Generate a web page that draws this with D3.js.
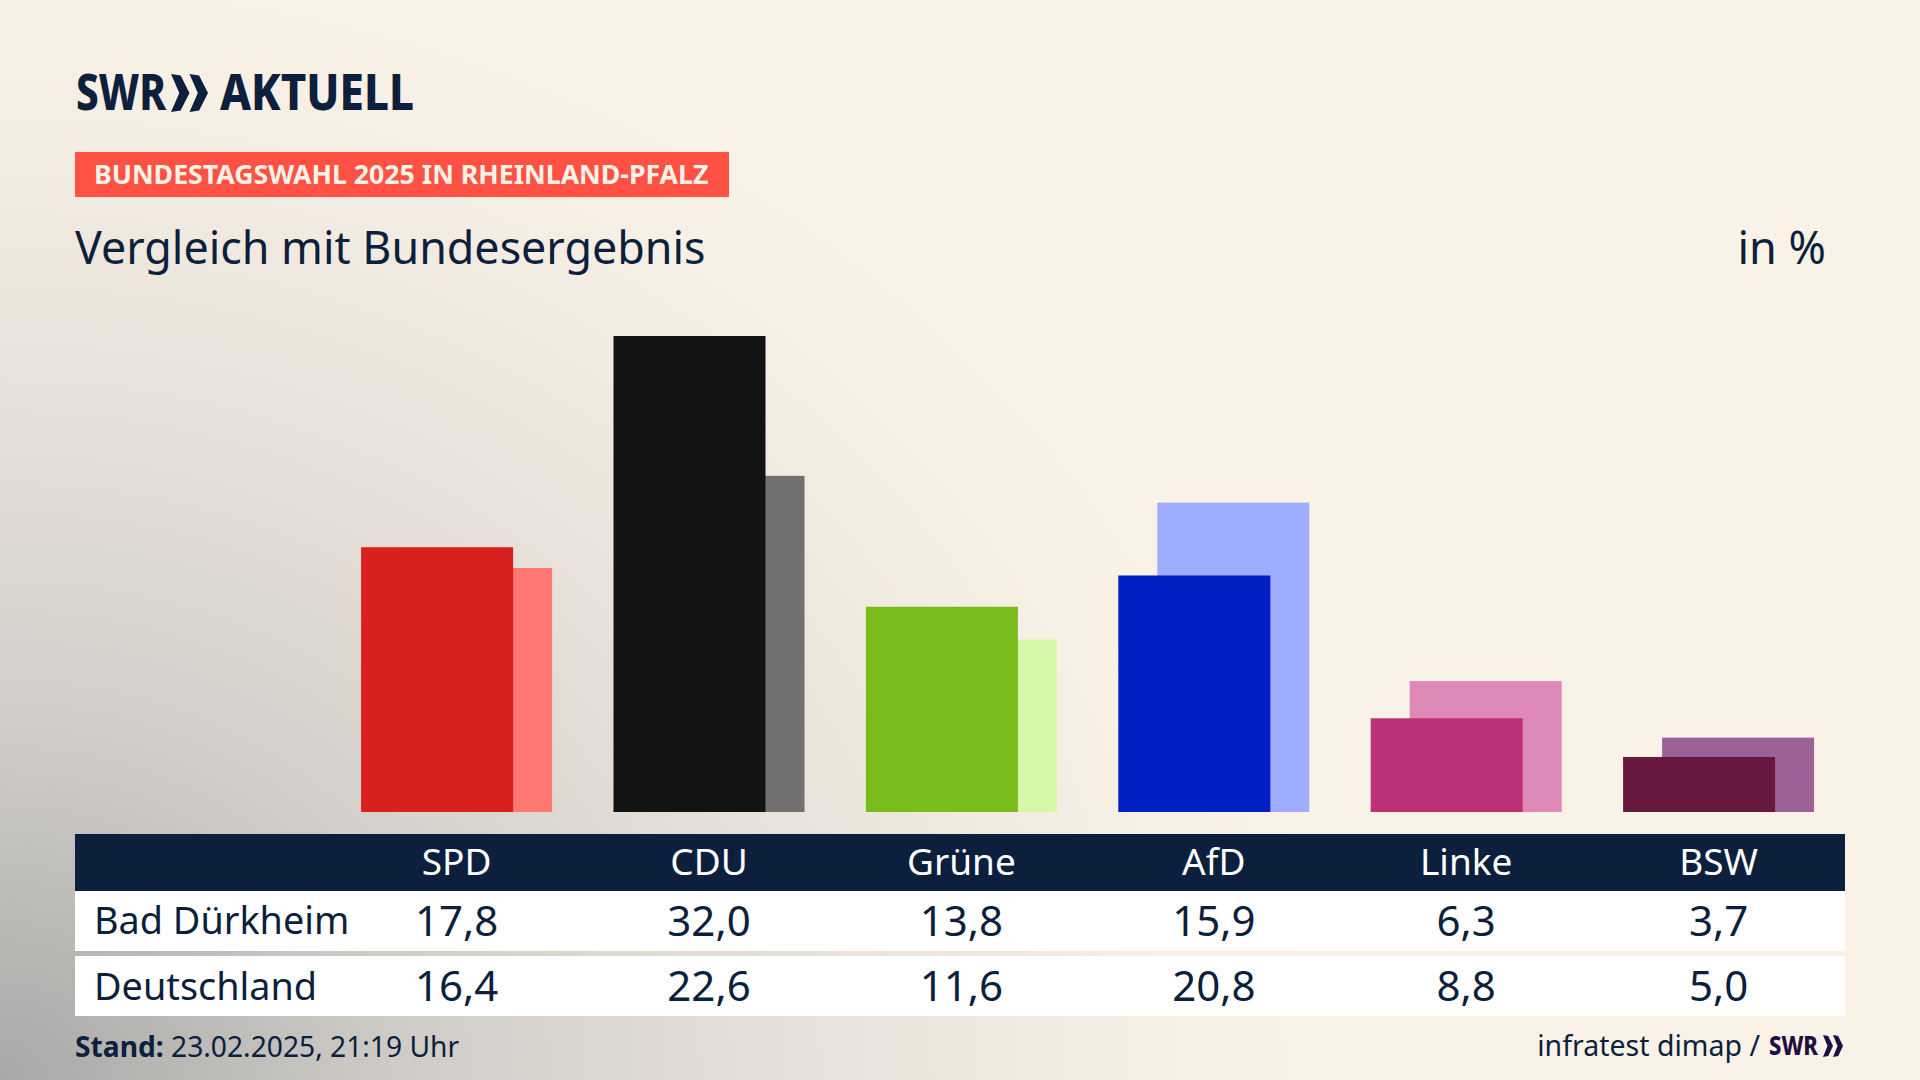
<!DOCTYPE html>
<html>
<head>
<meta charset="utf-8">
<script src="https://cdn.jsdelivr.net/npm/d3@7"></script>
<style>
html, body { margin: 0; padding: 0; background: #faf2e7; }
svg { display: block; }
text { font-family: "Noto Sans", sans-serif; fill: #0c1f3c; }
</style>
</head>
<body>
<div id="chart"></div>
<script>
var parties = ["SPD", "CDU", "Grüne", "AfD", "Linke", "BSW"];
var regionValues = [17.8, 32.0, 13.8, 15.9, 6.3, 3.7];
var nationalValues = [16.4, 22.6, 11.6, 20.8, 8.8, 5.0];
var regionColors = ["#d8201e", "#131313", "#78bc1b", "#0020c4", "#bb3076", "#68193f"];
var nationalColors = ["#ff7770", "#72716f", "#d6f6a8", "#9eadff", "#de88b6", "#9c6298"];
var rowLabels = ["Bad Dürkheim", "Deutschland"];
var navy = "#0c1f3c";

var svg = d3.select("#chart").append("svg")
    .attr("width", 1920)
    .attr("height", 1080);

// background glow from the bottom left corner
var defs = svg.append("defs");
var grad = defs.append("radialGradient")
    .attr("id", "bg")
    .attr("gradientUnits", "userSpaceOnUse")
    .attr("cx", 0).attr("cy", 0).attr("r", 1)
    .attr("gradientTransform", "translate(0,1080) scale(1350,1150)");
[[0, "#a8a8a7"], [0.3, "#cfccc7"], [0.6, "#e8e1d9"], [0.88, "#f8f0e5"], [1, "#faf2e7"]].forEach(function(s) {
    grad.append("stop").attr("offset", s[0]).attr("stop-color", s[1]);
});
svg.append("rect").attr("width", 1920).attr("height", 1080).attr("fill", "#faf2e7");
svg.append("rect").attr("width", 1920).attr("height", 1080).attr("fill", "url(#bg)");

// the two arrows of the SWR logo
function chevrons(x0, y0, w, h, color) {
    var cw = w / 2;
    var p = d3.path();
    [0, 1].forEach(function(i) {
        var left = x0 + i * cw;
        p.moveTo(left, y0);
        p.lineTo(left + cw * 0.52, y0 + h * 0.04);
        p.lineTo(left + cw, y0 + h / 2);
        p.lineTo(left + cw * 0.52, y0 + h * 0.96);
        p.lineTo(left, y0 + h);
        p.lineTo(left + cw * 0.45, y0 + h / 2);
        p.closePath();
    });
    svg.append("path").attr("d", p.toString()).attr("fill", color);
}

// header
svg.append("text").attr("x", 76).attr("y", 110)
    .attr("textLength", 90).attr("lengthAdjust", "spacingAndGlyphs")
    .style("font-size", "49px").style("font-weight", 800).text("SWR");
chevrons(171, 74, 37, 38, navy);
svg.append("text").attr("x", 220).attr("y", 110)
    .attr("textLength", 194).attr("lengthAdjust", "spacingAndGlyphs")
    .style("font-size", "49px").style("font-weight", 800).text("AKTUELL");

svg.append("rect").attr("x", 75).attr("y", 152).attr("width", 654).attr("height", 45).attr("fill", "#ff5244");
svg.append("text").attr("x", 94).attr("y", 184)
    .style("font-size", "26.7px").style("font-weight", 700).style("fill", "#faf2e7")
    .text("BUNDESTAGSWAHL 2025 IN RHEINLAND-PFALZ");

svg.append("text").attr("x", 75).attr("y", 264)
    .style("font-size", "44.8px").text("Vergleich mit Bundesergebnis");
svg.append("text").attr("x", 1826).attr("y", 264).attr("text-anchor", "end")
    .style("font-size", "45px").text("in %");

// table background first, so the labels sit on top of it
svg.append("rect").attr("x", 75).attr("y", 834).attr("width", 1770).attr("height", 57).attr("fill", navy);
svg.append("rect").attr("x", 75).attr("y", 891).attr("width", 1770).attr("height", 60).attr("fill", "#fff");
svg.append("rect").attr("x", 75).attr("y", 956).attr("width", 1770).attr("height", 60).attr("fill", "#fff");

// bars
var x = d3.scaleBand().domain(parties).range([330.4, 1844.8]).paddingInner(0);
var y = d3.scaleLinear().domain([0, 32]).range([812, 336]);
var barW = 152;
var offset = 39;

var groups = svg.selectAll(".party").data(parties).enter().append("g")
    .attr("class", "party")
    .attr("transform", function(d) { return "translate(" + (x(d) + x.bandwidth() / 2) + ",0)"; });

groups.append("rect")
    .attr("x", -barW / 2 + offset / 2)
    .attr("width", barW)
    .attr("y", function(d, i) { return y(nationalValues[i]); })
    .attr("height", function(d, i) { return y(0) - y(nationalValues[i]); })
    .attr("fill", function(d, i) { return nationalColors[i]; });

groups.append("rect")
    .attr("x", -barW / 2 - offset / 2)
    .attr("width", barW)
    .attr("y", function(d, i) { return y(regionValues[i]); })
    .attr("height", function(d, i) { return y(0) - y(regionValues[i]); })
    .attr("fill", function(d, i) { return regionColors[i]; });

groups.append("text").attr("y", 875).attr("text-anchor", "middle")
    .style("font-size", "37px").style("fill", "#fff").text(function(d) { return d; });

var fmt = function(v) { return v.toFixed(1).replace(".", ","); };
groups.append("text").attr("y", 936).attr("text-anchor", "middle")
    .style("font-size", "42px").text(function(d, i) { return fmt(regionValues[i]); });
groups.append("text").attr("y", 1001).attr("text-anchor", "middle")
    .style("font-size", "42px").text(function(d, i) { return fmt(nationalValues[i]); });

svg.selectAll(".row").data(rowLabels).enter().append("text")
    .attr("class", "row")
    .attr("x", 94)
    .attr("y", function(d, i) { return 934 + i * 66; })
    .style("font-size", "37.8px")
    .text(function(d) { return d; });

// footer
var stand = svg.append("text").attr("x", 75).attr("y", 1057).style("font-size", "28.2px");
stand.append("tspan").style("font-weight", 700).text("Stand:");
stand.append("tspan").text(" 23.02.2025, 21:19 Uhr");
svg.append("text").attr("x", 1760).attr("y", 1056).attr("text-anchor", "end")
    .style("font-size", "28.5px").text("infratest dimap /");
svg.append("text").attr("x", 1769).attr("y", 1055)
    .attr("textLength", 49).attr("lengthAdjust", "spacingAndGlyphs")
    .style("font-size", "26px").style("font-weight", 800).style("fill", "#1f0f42").text("SWR");
chevrons(1823, 1035, 20, 22, "#1f0f42");
</script>
</body>
</html>
